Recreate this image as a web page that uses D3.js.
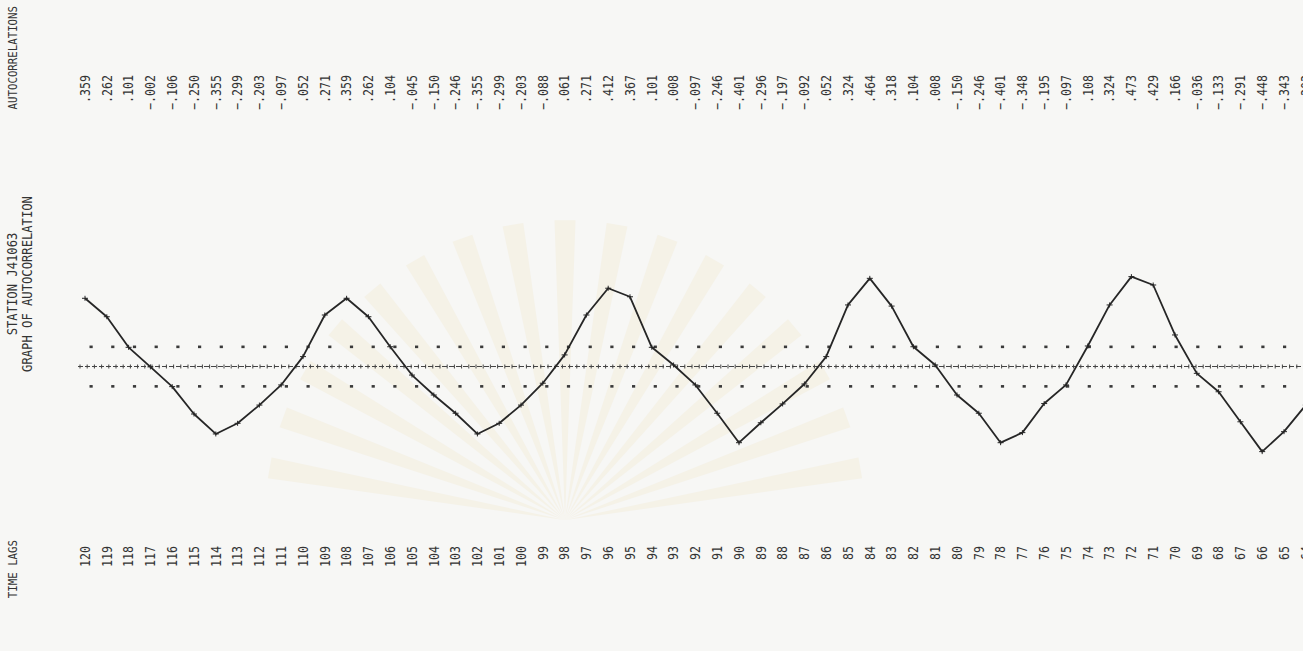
<!DOCTYPE html>
<html>
<head>
<meta charset="utf-8">
<title>Station J41063 - graph of autocorrelation</title>
<style>
  body { margin: 0; background: #f7f7f5; }
  svg text { font-family: "DejaVu Sans Mono", "Liberation Mono", monospace; fill: #333; }
</style>
</head>
<body>
<svg id="chart"></svg>
<script src="https://cdn.jsdelivr.net/npm/d3@7/dist/d3.min.js"></script>
<script>
var width = 1303, height = 651;

// time lags printed under the graph, one column per lag
var lags = [120,119,118,117,116,115,114,113,112,111,110,109,108,107,106,105,104,103,102,101,
            100,99,98,97,96,95,94,93,92,91,90,89,88,87,86,85,84,83,82,81,
            80,79,78,77,76,75,74,73,72,71,70,69,68,67,66,65,64];

// autocorrelation at each lag
var acf = [0.359,0.262,0.101,-0.002,-0.106,-0.250,-0.355,-0.299,-0.203,-0.097,
           0.052,0.271,0.359,0.262,0.104,-0.045,-0.150,-0.246,-0.355,-0.299,
           -0.203,-0.088,0.061,0.271,0.412,0.367,0.101,0.008,-0.097,-0.246,
           -0.401,-0.296,-0.197,-0.092,0.052,0.324,0.464,0.318,0.104,0.008,
           -0.150,-0.246,-0.401,-0.348,-0.195,-0.097,0.108,0.324,0.473,0.429,
           0.166,-0.036,-0.133,-0.291,-0.448,-0.343,-0.203];

var limit = 0.104;   // confidence band, +/-
var titles = ["STATION J41063", "GRAPH OF AUTOCORRELATION"];
var topLabel = "AUTOCORRELATIONS", bottomLabel = "TIME LAGS";

var svg = d3.select("#chart").attr("width", width).attr("height", height);

// faint paper watermark
var wm = svg.append("g").attr("opacity", 0.12);
d3.range(-80, 81, 10).forEach(function(a) {
  var r = a * Math.PI / 180, cx = 565, cy = 520, R = 300, w = 0.035;
  wm.append("path")
    .attr("d", "M" + cx + "," + cy +
      "L" + (cx + R * Math.sin(r - w)) + "," + (cy - R * Math.cos(r - w)) +
      "L" + (cx + R * Math.sin(r + w)) + "," + (cy - R * Math.cos(r + w)) + "Z")
    .attr("fill", "#e8cf88");
});

var x = d3.scaleLinear().domain([120, 64]).range([85, 85 + 56 * 21.8]);
var y = d3.scaleLinear().domain([-0.5, 0.5]).range([366.5 + 95, 366.5 - 95]);

function fmt(v) { return d3.format(".3f")(v).replace("0.", "."); }

// rotated column text helper (reads bottom to top)
function vtext(g, tx, ty, s, size, sq, anchor) {
  return g.append("text")
    .attr("transform", "translate(" + tx + "," + ty + ") rotate(-90) scale(" + sq + ",1)")
    .attr("text-anchor", anchor)
    .attr("dy", "0.35em")
    .style("font-size", size + "px")
    .text(s);
}

// left titles
vtext(svg, 12, 284, titles[0], 14, 0.87, "middle");
vtext(svg, 27, 284, titles[1], 14, 0.87, "middle");

// autocorrelation list along the top
vtext(svg, 13, 6, topLabel, 12.5, 0.86, "end");
var topG = svg.append("g");
lags.forEach(function(l, i) {
  vtext(topG, x(l), 75, fmt(acf[i]), 13.5, 0.86, "end");
});

// time lags along the bottom
vtext(svg, 13, 540, bottomLabel, 12.5, 0.86, "end");
var botG = svg.append("g");
lags.forEach(function(l) {
  vtext(botG, x(l), 546, String(l), 13.5, 0.86, "end");
});

// zero line with ticks
svg.append("line")
  .attr("x1", 78).attr("x2", width)
  .attr("y1", y(0)).attr("y2", y(0))
  .attr("stroke", "#444").attr("stroke-width", 1.1)
  .attr("stroke-dasharray", "5,2");
svg.append("g").selectAll("line")
  .data(d3.range(80, width, 7.2))
  .enter().append("line")
  .attr("x1", function(d) { return d; }).attr("x2", function(d) { return d; })
  .attr("y1", y(0) - 2).attr("y2", y(0) + 2)
  .attr("stroke", "#444").attr("stroke-width", 1);

// dotted confidence limits
[limit, -limit].forEach(function(v) {
  svg.append("g").selectAll("rect")
    .data(d3.range(91, width, 21.7))
    .enter().append("rect")
    .attr("x", function(d) { return d - 1.5; })
    .attr("y", y(v) - 1.2)
    .attr("width", 3.2).attr("height", 2.6)
    .attr("fill", "#3a3a3a");
});

// the autocorrelation curve
var line = d3.line()
  .x(function(d, i) { return x(lags[i]); })
  .y(function(d) { return y(d); });
svg.append("path")
  .datum(acf)
  .attr("d", line)
  .attr("fill", "none")
  .attr("stroke", "#262626")
  .attr("stroke-width", 1.8)
  .attr("stroke-linejoin", "round");

svg.append("g").selectAll("path")
  .data(acf)
  .enter().append("path")
  .attr("d", function(d, i) {
    var px = x(lags[i]), py = y(d);
    return "M" + (px - 3) + "," + py + "h6M" + px + "," + (py - 2.5) + "v5";
  })
  .attr("stroke", "#262626").attr("stroke-width", 1);
</script>
</body>
</html>
